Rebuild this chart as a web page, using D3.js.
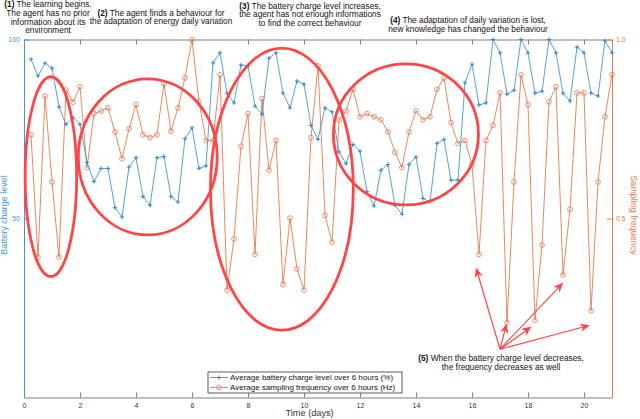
<!DOCTYPE html>
<html>
<head>
<meta charset="utf-8">
<script src="https://cdn.jsdelivr.net/npm/d3@7"></script>
<style>
  body { margin: 0; background: #fff; }
  svg { display: block; font-family: "Liberation Sans", Arial, sans-serif; }
</style>
</head>
<body>
<div class="visHolder"></div>
<script>
// average values over 6 hours, one sample every quarter day
var days = d3.range(1, 85).map(function(i) { return i / 4; });

var battery = [94.5, 89.8, 93.4, 92.0, 81.2, 76.3, 78.2, 76.3, 65.6, 60.3, 64.0, 64.0, 53.0, 50.4, 64.4, 67.0, 56.1, 53.7, 67.0, 67.3, 56.1,
    54.6, 72.3, 75.3, 64.0, 64.7, 93.5, 96.3, 85.0, 82.3, 92.9, 92.6, 81.4, 79.1, 94.8, 96.3, 85.0, 80.9, 88.4, 87.5, 76.0, 72.1,
    80.9, 79.8, 68.6, 65.3, 70.7, 68.8, 57.5, 53.5, 63.5, 65.1, 53.7, 51.2, 65.1, 67.2, 55.6, 54.7, 71.0, 72.1, 60.7, 60.7, 87.9,
    93.1, 81.7, 82.3, 100, 96.3, 84.7, 85.8, 100, 96.3, 85.0, 85.5, 100, 96.3, 85.0, 82.8, 97.9, 96.3, 85.0, 84.2, 99.6, 96.3];

var frequency = [0.734, 0.392, 0.842, 0.602, 0.392, 0.859, 0.825, 0.868, 0.642, 0.793, 0.800, 0.809, 0.742, 0.667, 0.751, 0.818, 0.734, 0.726, 0.734, 0.877, 0.744,
    0.809, 0.893, 1.0, 0.826, 0.718, 0.718, 0.901, 0.300, 0.443, 0.702, 0.793, 0.400, 0.835, 0.635, 0.718, 0.316, 0.501, 0.359, 0.300, 0.726, 0.926,
    0.509, 0.434, 0.775, 0.800, 0.861, 0.784, 0.793, 0.784, 0.776, 0.742, 0.685, 0.642, 0.742, 0.801, 0.776, 0.784, 0.861, 0.892, 0.768, 0.709, 0.718,
    0.651, 0.400, 0.718, 0.760, 0.851, 0.209, 0.602, 0.901, 0.818, 0.216, 0.426, 0.826, 0.868, 0.342, 0.526, 0.851, 0.851, 0.242, 0.602, 0.784, 0.902];

var xTicks = [0, 2, 4, 6, 8, 10, 12, 14, 16, 18, 20];
var leftTicks = [50, 100];
var rightTicks = [0.5, 1];

var legendLabels = ["Average battery charge level over 6 hours (%)", "Average sampling frequency over 6 hours (Hz)"];

// highlighted zones: center day, center level (%), half width (days), half height (%)
var zones = [
    { day: 0.96, level: 61.7, rx: 0.92, ry: 27.9 },
    { day: 4.42, level: 67.2, rx: 2.48, ry: 21.8 },
    { day: 9.21, level: 58.2, rx: 2.55, ry: 39.4 },
    { day: 13.64, level: 73.5, rx: 2.59, ry: 19.7 }
];

// arrows of note (5): all start at the same point (day, level %)
var arrowStart = { day: 17.0, level: 13.5 };
var arrowEnds = [
    { day: 16.14, level: 36.3 },
    { day: 17.24, level: 20.7 },
    { day: 18.13, level: 19.8 },
    { day: 19.26, level: 32.1 },
    { day: 20.21, level: 20.2 }
];

var notes = [
    { x: 48, y: 7, lines: ["<b>(1)</b> The learning begins.", "The agent has no prior", "information about its", "environment"] },
    { x: 161, y: 15.5, lines: ["<b>(2)</b> The agent finds a behaviour for", "the adaptation of  energy daily variation"] },
    { x: 310, y: 8.5, lines: ["<b>(3)</b> The battery charge level increases,", "the agent has not enough informations", "to find the correct behaviour"] },
    { x: 468, y: 23, lines: ["<b>(4)</b> The adaptation of daily variation is lost,", "new knowledge has changed the behaviour"] }
];
var note5 = ["<b>(5)</b> When the battery charge level decreases,", "the frequency decreases as well"];

var W = 640, H = 419;
var blue = "#3f97d6", orange = "#e37a4f", red = "#ff4545";

var svg = d3.select(".visHolder").append("svg")
    .attr("width", W).attr("height", H);

var x = d3.scaleLinear().domain([0, 21]).range([24, 612]);
var yL = d3.scaleLinear().domain([0, 100]).range([397.5, 39.5]);
var yR = d3.scaleLinear().domain([0, 1]).range([397.5, 39.5]);

// bottom axis
svg.append("g")
    .attr("transform", "translate(0," + yL(0) + ")")
    .call(d3.axisBottom(x).tickValues(xTicks).tickSizeInner(-5).tickSizeOuter(0).tickPadding(6))
    .call(function(g) {
        g.select(".domain").attr("stroke", "#808080");
        g.selectAll(".tick line").attr("stroke", "#808080");
        g.selectAll(".tick text").attr("fill", "#333").style("font-size", "7px");
    });

// top axis (box)
svg.append("g")
    .attr("transform", "translate(0," + yL(100) + ")")
    .call(d3.axisTop(x).tickValues(xTicks).tickSizeInner(-5).tickSizeOuter(0).tickFormat(""))
    .call(function(g) {
        g.select(".domain").attr("stroke", "#808080");
        g.selectAll(".tick line").attr("stroke", "#808080");
    });

// left axis
svg.append("g")
    .attr("transform", "translate(" + x(0) + ",0)")
    .call(d3.axisLeft(yL).tickValues(leftTicks).tickSizeInner(-5).tickSizeOuter(0).tickPadding(4))
    .call(function(g) {
        g.select(".domain").attr("stroke", blue);
        g.selectAll(".tick line").attr("stroke", blue);
        g.selectAll(".tick text").attr("fill", blue).style("font-size", "7px");
    });

// right axis
svg.append("g")
    .attr("transform", "translate(" + x(21) + ",0)")
    .call(d3.axisRight(yR).tickValues(rightTicks).tickSizeInner(-5).tickSizeOuter(0).tickPadding(4))
    .call(function(g) {
        g.select(".domain").attr("stroke", orange);
        g.selectAll(".tick line").attr("stroke", orange);
        g.selectAll(".tick text").attr("fill", orange).style("font-size", "7px");
    });

// axis titles
svg.append("text")
    .attr("transform", "translate(7," + yL(51) + ") rotate(-90)")
    .attr("text-anchor", "middle")
    .attr("fill", blue)
    .style("font-size", "9px")
    .text("Battery charge level");

svg.append("text")
    .attr("transform", "translate(631," + yR(0.51) + ") rotate(90)")
    .attr("text-anchor", "middle")
    .attr("fill", orange)
    .style("font-size", "9px")
    .text("Sampling frequency");

svg.append("text")
    .attr("x", x(10.2)).attr("y", 416)
    .attr("text-anchor", "middle")
    .attr("fill", "#333")
    .style("font-size", "9.2px")
    .text("Time (days)");

// series
var freqLine = d3.line().x(function(d, i) { return x(days[i]); }).y(function(d) { return yR(d); });
var battLine = d3.line().x(function(d, i) { return x(days[i]); }).y(function(d) { return yL(d); });

svg.append("path")
    .datum(frequency)
    .attr("d", freqLine)
    .attr("fill", "none")
    .attr("stroke", orange)
    .attr("stroke-width", 0.9);

svg.selectAll(".fmark")
    .data(frequency)
    .enter().append("circle")
    .attr("class", "fmark")
    .attr("cx", function(d, i) { return x(days[i]); })
    .attr("cy", function(d) { return yR(d); })
    .attr("r", 2.4)
    .attr("fill", "none")
    .attr("stroke", orange)
    .attr("stroke-width", 0.8);

svg.append("path")
    .datum(battery)
    .attr("d", battLine)
    .attr("fill", "none")
    .attr("stroke", blue)
    .attr("stroke-width", 0.9);

svg.selectAll(".bmark")
    .data(battery)
    .enter().append("path")
    .attr("class", "bmark")
    .attr("d", function(d, i) {
        var cx = x(days[i]), cy = yL(d);
        return "M" + (cx - 2.2) + "," + cy + "H" + (cx + 2.2) + "M" + cx + "," + (cy - 2.2) + "V" + (cy + 2.2);
    })
    .attr("stroke", "#2b7fc0")
    .attr("stroke-width", 0.9);

// highlighted zones
svg.selectAll(".zone")
    .data(zones)
    .enter().append("ellipse")
    .attr("class", "zone")
    .attr("cx", function(d) { return x(d.day); })
    .attr("cy", function(d) { return yL(d.level); })
    .attr("rx", function(d) { return x(d.rx) - x(0); })
    .attr("ry", function(d) { return yL(0) - yL(d.ry); })
    .attr("fill", "none")
    .attr("stroke", red)
    .attr("stroke-width", 2.8);

// arrows
var ax = x(arrowStart.day), ay = yL(arrowStart.level);
arrowEnds.forEach(function(e) {
    var tx = x(e.day), ty = yL(e.level);
    var ang = Math.atan2(ty - ay, tx - ax);
    var len = 10, wid = 4.2, back = 7;
    var ux = Math.cos(ang), uy = Math.sin(ang), px = -uy, py = ux;
    svg.append("line")
        .attr("x1", ax).attr("y1", ay)
        .attr("x2", tx - ux * back).attr("y2", ty - uy * back)
        .attr("stroke", red).attr("stroke-width", 1.2);
    var p1 = [tx - ux * len + px * wid, ty - uy * len + py * wid];
    var p2 = [tx - ux * back, ty - uy * back];
    var p3 = [tx - ux * len - px * wid, ty - uy * len - py * wid];
    svg.append("path")
        .attr("d", "M" + tx + "," + ty + "L" + p1 + "L" + p2 + "L" + p3 + "Z")
        .attr("fill", red);
});

// text notes
function writeLines(cx, cy, lines, size, step) {
    var t = svg.append("text")
        .attr("text-anchor", "middle")
        .attr("fill", "#111")
        .style("font-size", size + "px");
    lines.forEach(function(l, i) {
        var tsp = t.append("tspan").attr("x", cx).attr("y", cy + i * step);
        var m = l.match(/^<b>(.*)<\/b>(.*)$/);
        if (m) {
            tsp.append("tspan").attr("font-weight", "bold").text(m[1]);
            tsp.append("tspan").text(m[2]);
        } else {
            tsp.text(l);
        }
    });
}

notes.forEach(function(n) { writeLines(n.x, n.y, n.lines, 8.3, 8.8); });
writeLines(x(17.0) + 1, 361, note5, 8.3, 9);

// legend
var lg = svg.append("g").attr("transform", "translate(208,372)");
lg.append("rect")
    .attr("width", 194).attr("height", 21)
    .attr("fill", "#fff")
    .attr("stroke", "#333").attr("stroke-width", 0.8);
legendLabels.forEach(function(label, i) {
    var yy = 5.5 + i * 10;
    var c = i === 0 ? blue : orange;
    lg.append("line").attr("x1", 2).attr("x2", 20).attr("y1", yy).attr("y2", yy)
        .attr("stroke", c).attr("stroke-width", 0.9);
    if (i === 0) {
        lg.append("path").attr("d", "M8.8," + yy + "H13.2M11," + (yy - 2.2) + "V" + (yy + 2.2))
            .attr("stroke", "#2b7fc0").attr("stroke-width", 0.9);
    } else {
        lg.append("circle").attr("cx", 11).attr("cy", yy).attr("r", 2.4)
            .attr("fill", "none").attr("stroke", c).attr("stroke-width", 0.8);
    }
    lg.append("text")
        .attr("x", 22).attr("y", yy + 2.8)
        .attr("fill", "#111")
        .style("font-size", "8px")
        .text(label);
});
</script>
</body>
</html>
